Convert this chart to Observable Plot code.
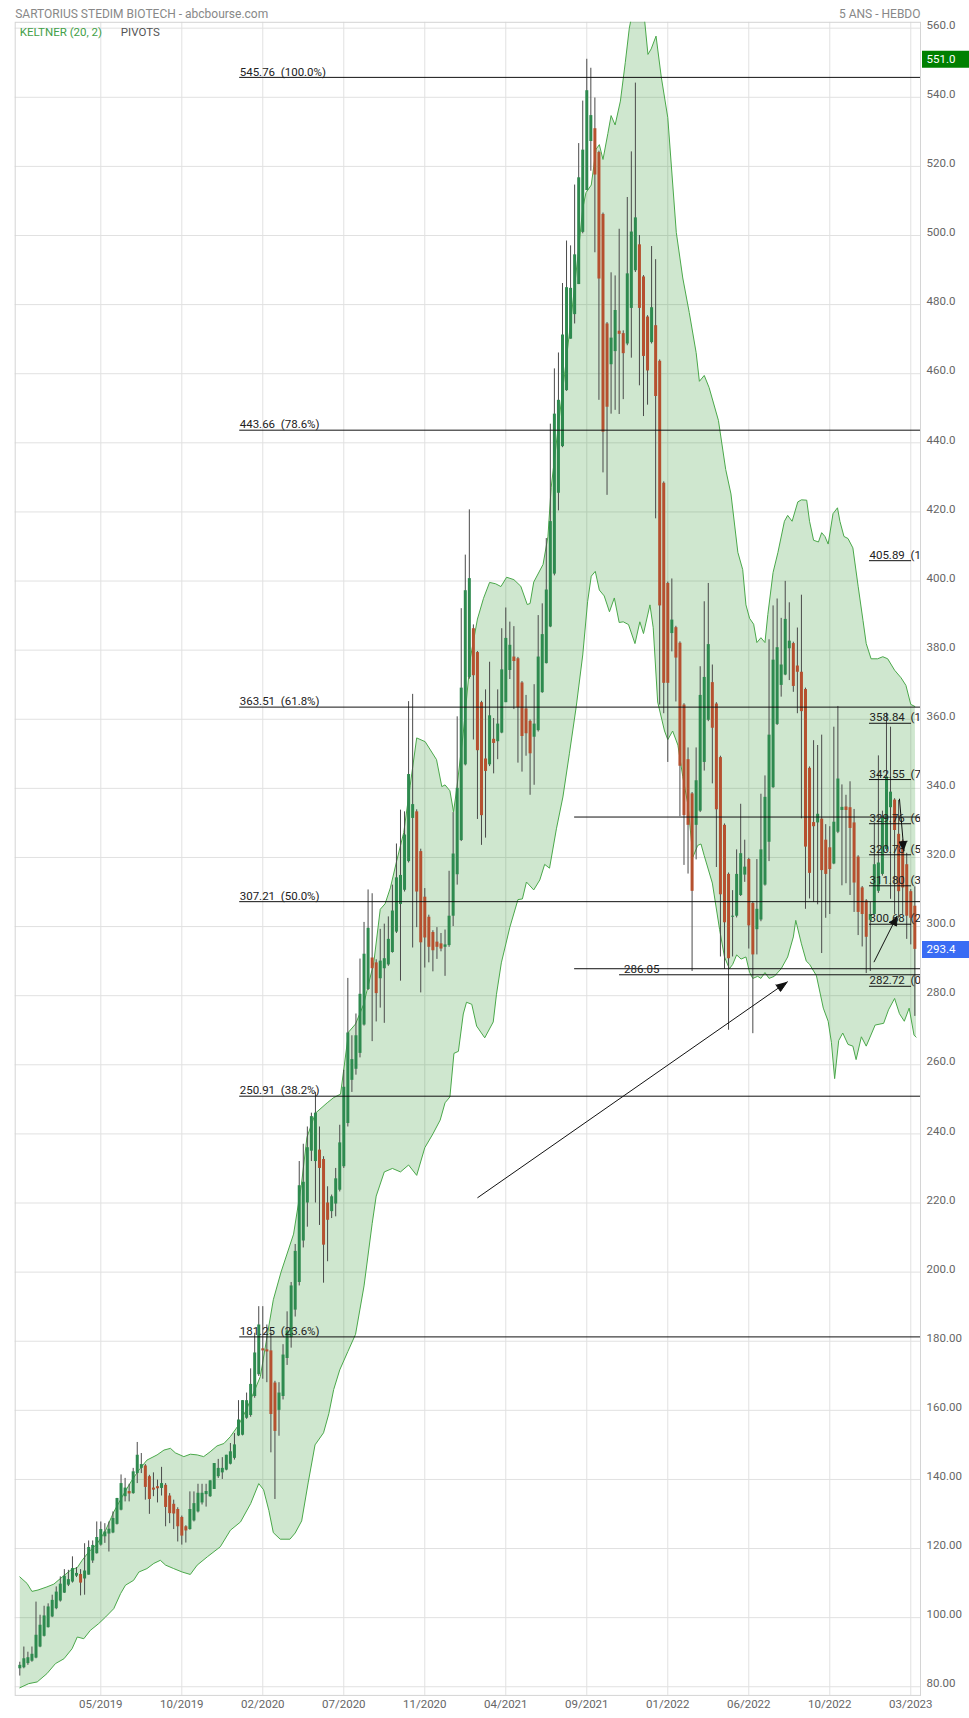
<!DOCTYPE html>
<html><head><meta charset="utf-8">
<script src="https://cdn.jsdelivr.net/npm/d3@7"></script>
<script src="https://cdn.jsdelivr.net/npm/@observablehq/plot@0.6"></script>
<style>
html,body{margin:0;padding:0;background:#fff;}
#chart svg text{white-space:pre;}
</style></head><body><div id="chart"></div>
<script>
// ---- weekly candles (index 0 = week of 31/12/2018) ----
const opens = [85.2,85.5,86.7,87.4,88.3,91.5,94.6,97.1,100.2,102.6,
104.8,107.1,109.4,110.3,112.0,112.5,111.2,112.3,116.4,118.5,
121.0,123.4,124.2,124.5,127.0,131.1,135.0,136.5,135.9,141.7,
143.2,143.9,140.8,137.5,137.9,137.4,138.3,135.2,132.8,131.3,
129.0,126.3,125.5,128.0,130.6,133.2,135.6,135.0,137.1,140.8,
141.9,142.7,144.4,146.1,152.6,152.8,157.7,158.5,164.0,170.3,
177.8,177.5,177.2,167.9,160.0,164.0,175.0,181.0,189.0,197.0,
209.0,220.0,235.0,232.0,235.3,232.6,220.0,217.5,219.7,223.7,
230.5,243.0,255.5,258.7,263.3,271.5,281.8,290.9,289.5,284.9,
287.8,288.9,292.5,298.4,306.4,310.5,318.8,331.3,333.2,321.7,
308.5,302.7,298.3,295.5,295.0,294.0,294.5,303.0,315.0,324.9,
346.8,372.1,386.2,379.3,364.8,348.5,346.8,354.2,353.5,356.0,
364.8,374.1,378.0,377.5,370.5,363.0,359.4,354.8,356.7,367.7,
376.1,386.7,402.0,425.4,438.9,455.1,470.0,477.1,485.8,500.9,
513.0,527.2,530.9,524.0,506.1,474.4,462.6,466.4,472.3,471.6,
468.6,478.9,489.8,497.3,488.0,476.4,469.0,473.9,463.6,428.3,
399.3,384.8,386.5,382.0,364.1,348.3,338.4,329.3,333.4,347.5,
359.7,370.6,364.4,348.9,329.3,315.1,302.7,303.0,309.0,314.9,
319.4,306.7,299.1,301.9,312.0,324.4,340.2,358.5,369.8,372.8,
380.4,381.9,375.4,373.6,368.6,345.8,330.1,330.0,331.1,325.0,
322.8,318.1,327.3,333.6,334.6,334.4,330.0,320.1,311.2,307.4,
301.8,303.5,310.2,315.1,322.3,334.4,336.6,326.7,324.7,317.9,
310.1,305.9];
const highs = [87.1,91.5,90.0,91.5,104.5,100.7,103.3,104.0,106.5,108.9,
111.8,113.9,113.7,117.6,114.5,113.9,121.4,122.2,122.2,127.7,
127.7,127.2,127.7,130.6,134.5,141.3,140.3,138.6,143.2,150.7,
147.5,144.3,141.2,141.9,139.8,143.5,138.8,135.9,134.0,131.8,
129.4,126.6,136.4,136.4,138.6,138.6,138.6,139.6,144.6,145.8,
146.3,147.0,150.4,153.3,162.8,162.8,165.0,172.0,182.3,190.0,
190.0,184.7,182.5,168.4,168.0,179.0,188.5,197.0,208.0,232.0,
237.0,242.0,246.0,252.0,242.0,233.4,224.7,222.3,230.0,242.5,
258.4,285.0,268.4,274.7,290.6,301.2,310.6,309.5,290.4,299.2,
300.7,302.8,312.0,323.9,333.7,333.2,365.1,367.2,333.8,322.4,
311.0,303.3,298.8,299.7,298.0,299.0,316.0,333.0,360.7,392.0,
407.5,420.6,387.3,379.6,365.2,368.5,376.5,360.2,368.5,386.2,
392.2,388.1,386.8,377.9,370.9,366.9,359.8,370.0,390.0,393.4,
412.3,445.4,461.4,466.0,486.1,498.4,497.0,514.6,526.6,538.9,
551.0,548.4,539.8,524.4,506.5,474.8,489.2,488.3,501.8,472.4,
511.0,524.2,544.1,500.0,488.4,476.8,496.8,493.0,464.0,428.7,
399.7,400.6,386.9,382.4,364.5,351.7,338.8,351.7,375.2,394.0,
399.3,375.7,364.8,349.3,329.7,315.5,310.4,322.2,335.4,325.0,
319.8,307.1,319.4,338.3,343.6,383.0,392.8,394.8,389.2,399.9,
393.7,382.3,386.4,395.9,369.0,346.2,353.8,352.4,355.4,329.5,
328.9,357.7,363.7,341.0,338.0,341.9,333.9,320.5,311.6,307.8,
307.0,330.0,349.4,333.4,361.8,357.7,337.0,336.5,325.1,321.2,
310.7,311.5];
const lows = [83.1,85.2,86.2,87.1,88.1,91.3,94.4,97.0,100.0,102.3,
104.5,107.0,109.0,110.0,111.6,106.3,106.5,112.3,115.7,118.4,
120.7,121.5,119.0,124.3,126.8,130.9,133.5,133.5,135.7,138.8,
141.7,134.0,129.9,135.0,133.2,135.2,126.3,127.2,125.5,121.9,
121.0,121.6,125.3,127.7,130.3,132.6,132.0,134.8,137.1,140.3,
140.0,142.5,144.2,145.6,152.4,152.6,157.4,158.0,163.5,169.8,
169.0,168.0,147.7,134.2,152.5,163.0,173.0,178.0,187.0,196.0,
207.0,213.0,232.0,220.0,213.5,196.8,203.0,215.5,216.0,223.2,
230.0,242.0,252.0,257.0,262.0,271.2,281.5,266.7,272.4,276.4,
272.0,288.5,292.3,298.0,284.2,310.0,318.4,293.8,299.7,280.8,
288.0,289.5,286.9,290.5,292.7,285.6,294.0,300.0,312.0,324.6,
346.5,371.6,354.0,331.0,323.5,325.6,346.3,344.2,348.3,355.8,
364.8,371.5,362.8,347.3,344.7,349.3,338.0,340.9,356.3,367.5,
376.0,386.5,401.5,420.3,438.6,454.9,470.0,474.4,485.8,500.5,
513.0,518.6,495.0,452.3,431.3,424.8,448.3,449.4,448.2,452.5,
468.1,464.5,489.3,456.5,447.6,450.9,468.6,418.0,364.1,361.6,
347.5,379.5,365.0,331.8,317.7,315.2,287.0,319.3,333.0,345.0,
359.3,341.3,317.1,291.2,287.6,270.0,291.2,302.5,308.7,312.8,
293.5,269.0,291.8,301.4,311.7,318.8,340.0,358.2,366.4,372.6,
371.2,367.8,361.6,331.2,305.0,308.0,307.0,306.3,292.2,302.4,
303.5,317.9,326.9,311.8,312.4,309.0,304.1,297.4,294.1,286.4,
287.0,303.3,309.6,314.6,321.8,307.9,303.5,302.4,303.5,296.3,
294.7,274.0];
const closes = [86.2,88.1,88.4,89.4,94.9,97.8,100.5,103.1,105.0,107.4,
109.7,112.0,111.0,114.2,112.8,110.0,113.5,120.3,120.9,123.2,
125.5,124.8,125.6,128.7,134.5,138.8,137.5,135.8,142.2,147.0,
144.3,137.7,134.2,136.9,137.3,138.8,131.9,130.1,130.0,126.3,
123.6,125.1,131.3,133.0,136.0,136.0,136.5,139.6,144.6,143.2,
143.2,147.0,148.0,150.0,157.2,162.8,162.8,167.5,176.6,184.7,
177.2,176.9,158.8,153.9,165.0,176.0,183.0,196.0,206.0,225.0,
226.0,236.0,245.0,246.0,230.0,207.8,215.0,221.8,227.0,237.4,
253.5,269.2,261.5,268.4,280.4,292.0,299.5,287.8,280.6,290.0,
290.7,296.3,304.5,314.1,314.8,326.5,344.0,335.3,310.0,295.3,
296.7,294.0,293.0,294.0,293.5,294.7,303.0,321.0,340.0,369.0,
397.2,400.7,372.6,350.9,332.1,344.9,361.0,353.0,358.6,374.3,
383.4,381.4,376.7,363.3,355.0,355.8,350.0,358.6,378.0,384.5,
397.4,417.2,448.3,452.3,471.2,484.9,484.7,494.4,516.7,524.7,
541.9,534.7,517.5,487.4,443.1,450.3,470.3,478.3,471.4,465.8,
488.9,501.0,505.1,478.9,465.0,460.8,479.1,453.4,392.8,370.4,
370.4,388.7,377.7,346.4,332.1,329.3,310.2,342.2,366.9,372.1,
381.6,357.4,333.8,309.2,301.1,290.7,303.0,315.1,321.1,317.2,
300.2,291.8,305.0,322.2,337.4,355.4,377.1,380.7,375.7,388.9,
382.6,369.5,373.6,362.2,323.0,315.4,328.9,332.5,316.2,315.1,
316.5,330.2,342.7,334.5,333.6,328.4,312.6,304.1,303.5,296.9,
303.5,317.9,318.4,331.7,343.3,338.9,327.8,310.1,311.2,303.0,
302.4,293.4];

// ---- Keltner (20, 2) channel ----
const upperWeeks = [0,1.8,3,4.5,6.7,8.4,10,12.5,14.2,15.4,17,19.1,21.2,23.2,25.7,27.7,29.4,31.4,33.9,35.6,37.2,38.4,40.5,42.1,43.8,45.4,47,48.7,50.4,52,54,56.1,58.2,59.4,61,62.6,64.5,67.6,69.5,70.9,73,75.9,77.5,79.2,81.2,82.9,84.9,87.4,89,90.2,91.5,93.1,94.8,96.4,98,100.1,102.9,104.2,105,106.2,107.1,107.9,109.5,111.3,113,114.5,116,117.5,118.8,120.2,122,123.7,125.3,126,126.9,129.2,130.4,131.2,132.8,134.5,136.1,137.8,139,139.8,141.1,142.3,143.1,144,145.2,146,147,148.3,149.5,150.5,151.5,153,154.3,155.1,155.9,157.1,158.4,160,162.1,163.7,165.3,167,167.8,169,170.2,172.5,174.3,175.6,177.3,178.5,179.3,180.2,181.2,182,183,184,184.7,186,187.2,188.8,189.6,190.7,192.1,193,194.3,195,196,197.2,198,198.8,199.6,200.8,201.9,202.5,203.5,204.5,205.7,207,208.2,209,210.2,211.8,213.1,214.3,216,217.6,218.8,220,221];
const upperValues = [111.8,109.9,107.6,108.0,108.9,109.7,111.3,113.7,114.5,116.6,119.0,121.4,125.3,130.6,135.9,139.8,142.7,145.6,147.1,148.5,149.0,147.7,146.6,147.3,147.1,146.6,148.0,149.7,150.4,152.4,155.7,160.6,166.4,169.8,181.0,192.0,200.0,211.0,225.0,239.0,246.0,249.0,250.5,251.5,269.5,271.8,277.5,289.5,305.0,306.6,311.2,319.2,327.2,340.9,354.6,353.5,348.3,340.5,341.0,339.3,333.2,340.0,356.0,378.0,389.0,395.0,399.6,399.2,398.4,401.1,400.4,398.5,393.2,393.5,399.7,404.8,412.8,427.0,443.1,459.7,475.7,494.0,507.8,512.4,514.6,525.0,526.3,522.0,529.5,534.7,532.0,538.9,550.0,560.0,566.0,568.0,562.0,552.4,554.0,557.7,545.8,534.1,500.9,487.7,477.7,466.1,457.8,459.5,456.0,446.5,432.3,425.2,408.3,403.3,393.1,389.2,387.5,382.2,383.6,382.2,390.3,402.5,408.3,417.3,419.0,417.3,422.9,423.5,423.4,417.3,411.8,411.3,414.0,412.9,410.7,419.5,421.2,417.3,412.9,412.3,409.6,398.5,388.6,381.9,377.5,377.5,378.1,377.5,374.2,372.0,369.8,364.3,363.7];
const lowerWeeks = [0,2.2,4.3,6.7,8.8,10.9,12.9,14.2,15.8,17.4,19.5,21.2,23.2,24.9,26.1,28.1,29.4,31.4,33.1,34.7,36,38,40.1,42.1,43.8,46.3,49.5,52,54.5,57,59,60.2,61.5,62.6,64.3,66.7,68,69.6,71.2,72.9,75,76.3,77.5,79,81,82.9,85,87,88,90,92,94,96,98,100,102,103.8,105,106.2,107.2,108.3,109.5,110.3,111.6,112.8,114.8,116.9,117.7,118.9,121,123,124.1,125.1,126.9,128.4,129.6,130.8,132.5,134.1,135.7,137.4,139,140.2,141.1,142.1,143.1,144.3,145.6,146.8,148,149,150.3,151.9,153.1,154,155.6,156.4,157.5,159.2,160,161.2,162.5,163.7,165,166.2,167.4,168.2,169,171,172.8,174,175.2,176,177,178.1,179.3,180.2,181,182.2,183,184,185,186.3,188,189.6,191,191.6,193,194.2,195,196.7,198.4,199.6,200.4,201.2,202.2,203.2,204.5,205.7,206.5,207.8,209,211.2,213.3,214.5,216,217.2,218.4,219.6,220.8,221.3];
const lowerValues = [79.7,80.9,81.4,83.8,86.7,88.1,91.0,94.4,93.9,96.3,98.3,100.2,102.6,107.0,109.4,110.8,113.2,114.2,115.7,116.6,115.2,114.2,113.2,112.5,115.2,117.6,120.5,125.3,127.7,133.0,138.8,137.0,131.0,124.6,122.7,122.7,124.5,128.0,139.0,150.0,153.5,159.0,166.0,171.7,177.0,182.0,196.0,214.0,222.0,229.0,230.0,229.0,231.0,228.0,236.0,240.0,244.0,249.0,250.7,263.3,263.9,274.7,278.1,277.5,271.2,267.8,272.4,280.4,289.5,299.8,307.8,308.0,312.9,310.6,313.5,318.0,316.9,328.3,337.5,350.0,363.7,378.6,394.0,401.4,402.8,397.4,395.7,391.1,395.1,388.0,388.2,387.4,381.9,388.2,384.8,393.1,386.5,365.0,356.6,354.1,356.6,352.5,343.4,335.1,320.1,323.5,323.9,320.5,312.6,299.1,291.2,287.8,289.0,291.8,290.6,291.2,286.7,285.0,285.6,285.0,286.7,285.0,285.6,287.8,291.2,297.0,301.8,295.0,290.0,289.1,285.8,276.4,272.6,266.5,256.0,267.0,269.2,265.9,265.4,261.5,268.1,265.4,271.5,272.0,275.9,279.2,274.8,272.6,276.4,268.6,268.0];

// ---- axes ----
const yTicks = [80,100,120,140,160,180,200,220,240,260,280,300,320,340,360,380,400,420,440,460,480,500,520,540,560];
const yTickLabels = ["80.00","100.00","120.00","140.00","160.00","180.00","200.0","220.0","240.0","260.0","280.0","300.0","320.0","340.0","360.0","380.0","400.0","420.0","440.0","460.0","480.0","500.0","520.0","540.0","560.0"];
const xTickWeeks = [20,40,60,80,100,120,140,160,180,200,220];
const xTickLabels = ["05/2019","10/2019","02/2020","07/2020","11/2020","04/2021","09/2021","01/2022","06/2022","10/2022","03/2023"];

// ---- Fibonacci retracements & pivots ----
const fibLevels = [545.76,443.66,363.51,307.21,250.91,181.25];
const fibLabels = ["545.76  (100.0%)","443.66  (78.6%)","363.51  (61.8%)","307.21  (50.0%)","250.91  (38.2%)","181.25  (23.6%)"];
const fibStartWeek = 54.3;
const fib2Levels = [405.89,358.84,342.55,329.76,320.78,311.80,300.68,282.72];
const fib2Labels = ["405.89  (161.8%)","358.84  (100.0%)","342.55  (78.6%)","329.76  (61.8%)","320.78  (50.0%)","311.80  (38.2%)","300.68  (23.6%)","282.72  (0.0%)"];
const fib2StartWeek = 209.8, fib2EndWeek = 220.2;
const pivotLevels = [331.7, 287.8];
const pivotStartWeek = 137;
const supportLevel = 286.05, supportStartWeek = 148.1, supportLabelWeek = 149.2;
const arrowFromWeek = [113, 210.9, 217.2];
const arrowFromPrice = [221.5, 289.7, 337.0];
const arrowToWeek = [189.5, 216.6, 218.3];
const arrowToPrice = [284.0, 303.0, 322.0];
const lastHigh = 551.0, lastClose = 293.4;

// ---- build ----
const W = 969, H = 1718;
const mL = 14.7, mR = 49, mT = 21.8, mB = 23.1;
const start = Date.UTC(2018, 11, 31);
const week = i => new Date(start + i * 7 * 86400000);
const xDomain = [week(-1.136), week(222.4)];
const yDomain = [77.5, 561.7];
const xs = d3.scaleUtc().domain(xDomain).range([mL, W - mR]);
const ys = d3.scaleLinear().domain(yDomain).range([H - mB, mT]);

const candles = opens.map((o, i) => ({date: week(i), open: o, high: highs[i], low: lows[i], close: closes[i]}));
const ups = candles.filter(d => d.close >= d.open);
const downs = candles.filter(d => d.close < d.open);

const upper = upperWeeks.map((w, i) => ({date: week(w), v: upperValues[i]}));
const lower = lowerWeeks.map((w, i) => ({date: week(w), v: lowerValues[i]}));
const bandPoly = upper.concat(lower.slice().reverse());

const fib1 = fibLevels.map((v, i) => ({level: v, label: fibLabels[i], s: week(fibStartWeek), e: xDomain[1]}));
const fib2 = fib2Levels.map((v, i) => ({level: v, label: fib2Labels[i], s: week(fib2StartWeek), e: week(fib2EndWeek)}));
const pivots = pivotLevels.map(v => ({level: v, s: week(pivotStartWeek), e: xDomain[1]}));
const support = [{level: supportLevel, s: week(supportStartWeek), e: xDomain[1], t: week(supportLabelWeek), label: supportLevel.toFixed(2)}];

const arrows = arrowFromWeek.map((w, i) => ({x1: week(w), y1: arrowFromPrice[i], x2: week(arrowToWeek[i]), y2: arrowToPrice[i]}));
// filled arrow heads (triangles built in data space through the scales)
const heads = [];
arrows.forEach((a, k) => {
  const px1 = xs(a.x1), py1 = ys(a.y1), px2 = xs(a.x2), py2 = ys(a.y2);
  const len = Math.hypot(px2 - px1, py2 - py1);
  const ux = (px2 - px1) / len, uy = (py2 - py1) / len;
  const L = k === 0 ? 11 : 9, Wd = 8;
  const bx = px2 - ux * L, by = py2 - uy * L;
  const pts = [[px2, py2], [bx - uy * Wd / 2, by + ux * Wd / 2], [bx + uy * Wd / 2, by - ux * Wd / 2]];
  pts.forEach(p => heads.push({id: k, date: xs.invert(p[0]), v: ys.invert(p[1])}));
});

const GREEN = "#2e8a4f", RED = "#b5502f", WICK = "#4a4a4a", GRID = "#e1e1e1";
const FS = 11.5;

const chart = Plot.plot({
  width: W, height: H,
  marginLeft: mL, marginRight: mR, marginTop: mT, marginBottom: mB,
  x: {type: "utc", domain: xDomain, axis: null},
  y: {type: "linear", domain: yDomain, axis: null},
  style: {fontFamily: "Roboto, 'Noto Sans', sans-serif", fontSize: "11.5px", background: "#fff", overflow: "visible"},
  marks: [
    Plot.ruleY(yTicks, {stroke: GRID, strokeWidth: 1}),
    Plot.ruleX(xTickWeeks.map(week), {stroke: GRID, strokeWidth: 1}),
    Plot.frame({stroke: "#d4d4d4"}),
    Plot.line(bandPoly, {x: "date", y: "v", fill: "#008000", fillOpacity: 0.19, stroke: "none", clip: true}),
    Plot.line(upper, {x: "date", y: "v", stroke: "#4aa84a", strokeWidth: 1, clip: true}),
    Plot.line(lower, {x: "date", y: "v", stroke: "#4aa84a", strokeWidth: 1, clip: true}),
    Plot.ruleX(candles, {x: "date", y1: "low", y2: "high", stroke: WICK, strokeWidth: 1}),
    Plot.ruleX(ups, {x: "date", y1: "open", y2: "close", stroke: GREEN, strokeWidth: 3}),
    Plot.ruleX(downs, {x: "date", y1: "open", y2: "close", stroke: RED, strokeWidth: 3}),
    Plot.ruleY(fib1, {y: "level", x1: "s", x2: "e", stroke: "#111", strokeWidth: 1}),
    Plot.text(fib1, {x: "s", y: "level", text: "label", textAnchor: "start", dy: -5.5, fill: "#222", fontSize: FS}),
    Plot.ruleY(pivots, {y: "level", x1: "s", x2: "e", stroke: "#111", strokeWidth: 1}),
    Plot.ruleY(support, {y: "level", x1: "s", x2: "e", stroke: "#111", strokeWidth: 1}),
    Plot.text(support, {x: "t", y: "level", text: "label", textAnchor: "start", dy: -5.5, fill: "#222", fontSize: FS}),
    Plot.ruleY(fib2, {y: "level", x1: "s", x2: "e", stroke: "#111", strokeWidth: 1}),
    Plot.text(fib2, {x: "s", y: "level", text: "label", textAnchor: "start", dy: -5.5, fill: "#222", fontSize: FS, clip: true}),
    Plot.link(arrows, {x1: "x1", y1: "y1", x2: "x2", y2: "y2", stroke: "#111", strokeWidth: 1}),
    Plot.line(heads, {x: "date", y: "v", z: "id", fill: "#111", stroke: "#111", strokeWidth: 1}),
    // right axis labels
    Plot.text(yTicks, {y: d => d, text: (d, i) => yTickLabels[i], frameAnchor: "right", textAnchor: "start", dx: 6, dy: -3, fill: "#666", fontSize: FS}),
    // bottom axis labels
    Plot.text(xTickWeeks, {x: d => week(d), text: (d, i) => xTickLabels[i], frameAnchor: "bottom", dy: 12.7, fill: "#666", fontSize: FS}),
    // last-price boxes
    Plot.ruleY([lastHigh], {y: d => d, x1: () => xs.invert(W - mR + 2), x2: () => xs.invert(W), stroke: "#008000", strokeWidth: 17}),
    Plot.text([lastHigh], {y: d => d, text: d => d.toFixed(1), frameAnchor: "right", textAnchor: "start", dx: 6, fill: "#fff", fontSize: FS}),
    Plot.ruleY([lastClose], {y: d => d, x1: () => xs.invert(W - mR + 2), x2: () => xs.invert(W), stroke: "#3a6cf4", strokeWidth: 17}),
    Plot.text([lastClose], {y: d => d, text: d => d.toFixed(1), frameAnchor: "right", textAnchor: "start", dx: 6, fill: "#fff", fontSize: FS}),
    // header / legend
    Plot.text(["SARTORIUS STEDIM BIOTECH - abcbourse.com"], {text: d => d, frameAnchor: "top-left", textAnchor: "start", dy: -13, fill: "#888", fontSize: 12}),
    Plot.text(["5 ANS - HEBDO"], {text: d => d, frameAnchor: "top-right", textAnchor: "end", dy: -13, fill: "#888", fontSize: 12}),
    Plot.text(["KELTNER (20, 2)"], {text: d => d, frameAnchor: "top-left", textAnchor: "start", dx: 4.5, dy: 5.5, fill: "#43a047", fontSize: FS}),
    Plot.text(["PIVOTS"], {text: d => d, frameAnchor: "top-left", textAnchor: "start", dx: 105.6, dy: 5.5, fill: "#555", fontSize: FS})
  ]
});
document.getElementById("chart").appendChild(chart);
</script>
</body></html>
